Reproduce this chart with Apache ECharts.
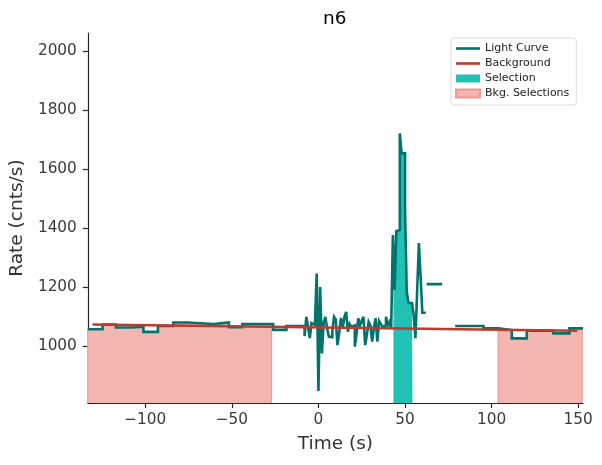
<!DOCTYPE html>
<html>
<head>
<meta charset="utf-8">
<script src="https://cdn.jsdelivr.net/npm/echarts@6/dist/echarts.min.js"></script>
<style>html,body{margin:0;padding:0;background:#fff}#c{width:602px;height:465px}</style>
</head>
<body>
<div id="c"></div>
<script>
// ---- data ----
const title = 'n6';
const xTicks = [-100, -50, 0, 50, 100, 150];
const yTicks = [1000, 1200, 1400, 1600, 1800, 2000];
const xRange = [-133.2, 152.8];
const yRange = [807, 2061];

// coarse light curve bins before the trigger (left edges, rates)
const lcLeftEdges = [-133.2, -124.7, -117, -108.4, -101.1, -92.7, -83.8, -75.7, -60.4, -51.7, -44, -26.1, -18.5];
const lcLeftRates = [1057, 1073, 1063, 1066, 1048, 1068, 1080, 1075, 1080, 1064, 1075, 1055, 1068];
// fine 1 s bins around the burst
const fineStart = -10;
const fineWidth = 1;
const fineRates = [
  1068, 1068, 1034, 1099, 1065, 1027, 1078, 1072, 1080, 1246,
  848, 1200, 975, 1080, 1099, 1060, 1032, 1030, 1050, 1099,
  1090, 1003, 1045, 1095, 1060, 1098, 1116, 1049, 1075, 1065,
  1070, 998, 1040, 1094, 1070, 1085, 1099, 1003, 1040, 1082,
  1070, 1015, 1060, 1094, 1015, 1085, 1075, 1065, 1070, 1099,
  1070, 1082, 1060, 1376, 1190, 1390, 1393, 1721, 1653, 1653,
  1467, 1184, 1146, 1146, 1140, 1105, 1027, 1184, 1349, 1235,
  1113, 1113
];
// isolated bin after the burst
const lcTailEdges = [62.5];
const lcTailRates = [1210];
const lcTailEnd = 71.5;
// coarse bins after the burst
const lcRightEdges = [79, 95.3, 104, 111.7, 120.3, 135.7, 145];
const lcRightRates = [1068, 1060, 1054, 1026, 1052, 1043, 1060];
const lcRightEnd = 152.8;

// background model
const bkgTimes = [-130.5, 149.5];
const bkgRates = [1073, 1052];

// selections
const srcSel = [43.3, 54.3];
const bkgSels = [[-133.2, -27.1], [103.8, 152.3]];

// ---- build ----
const fineEdges = fineRates.map((r, i) => fineStart + i * fineWidth);
const mainEdges = lcLeftEdges.concat(fineEdges);
const mainRates = lcLeftRates.concat(fineRates);
const mainEnd = fineStart + fineRates.length * fineWidth;

// histogram outline: each bin gives its left and right corner at its rate
function binsToPath(edges, rates, end, a, b) {
  const pts = [];
  for (let i = 0; i < edges.length; i++) {
    let l = edges[i], r = (i + 1 < edges.length) ? edges[i + 1] : end;
    l = Math.max(l, a); r = Math.min(r, b);
    if (r <= l) continue;
    pts.push([l, rates[i]], [r, rates[i]]);
  }
  return pts;
}
const pieces = [
  [mainEdges, mainRates, mainEnd],
  [lcTailEdges, lcTailRates, lcTailEnd],
  [lcRightEdges, lcRightRates, lcRightEnd]
];
function sliceFill(a, b, closed) {
  let pts = [];
  for (const [e, r, end] of pieces) pts = pts.concat(binsToPath(e, r, end, a, b));
  if (closed && pts.length) {
    pts.unshift([pts[0][0], yRange[0]]);
    pts.push([pts[pts.length - 1][0], yRange[0]]);
  }
  return pts;
}
const minus = v => String(v).replace('-', '\u2212');

const C_LC = '#00736c', C_BKG = '#c0392b', C_SEL = '#22c1b6', C_BSEL = '#f4b6b0', C_BSEL_EDGE = '#ee9a92';
const FONT = 'DejaVu Sans';

const series = [];
bkgSels.forEach(r => series.push({
  name: 'Bkg. Selections', type: 'line', symbol: 'none', z: 1,
  data: sliceFill(r[0], r[1], true),
  itemStyle: { color: C_BSEL, borderColor: C_BSEL_EDGE, borderWidth: 1 },
  lineStyle: { color: C_BSEL_EDGE, width: 1.2, join: 'miter' },
  areaStyle: { color: C_BSEL, opacity: 1, origin: 'start' }
}));
series.push({
  name: 'Selection', type: 'line', symbol: 'none', z: 2,
  data: sliceFill(srcSel[0], srcSel[1], false),
  itemStyle: { color: C_SEL },
  lineStyle: { width: 0 },
  areaStyle: { color: C_SEL, opacity: 1, origin: 'start' }
});
pieces.forEach(([e, r, end]) => series.push({
  name: 'Light Curve', type: 'line', symbol: 'none', z: 3,
  data: binsToPath(e, r, end, -Infinity, Infinity),
  itemStyle: { color: C_LC },
  lineStyle: { color: C_LC, width: 2.6, join: 'miter', miterLimit: 4, cap: 'butt' }
}));
series.push({
  name: 'Background', type: 'line', symbol: 'none', z: 4,
  data: bkgTimes.map((t, i) => [t, bkgRates[i]]),
  itemStyle: { color: C_BKG },
  lineStyle: { color: C_BKG, width: 2.6 }
});

const axisCommon = {
  axisLine: { show: true, onZero: false, lineStyle: { color: '#262626', width: 1.2 } },
  axisTick: { show: true, length: 5, lineStyle: { color: '#262626', width: 1.2 } },
  splitLine: { show: false },
  nameTextStyle: { fontFamily: FONT, fontSize: 18.5, color: '#333' }
};

const lineIcon = 'path://M0,0 L24,0 L24,2.6 L0,2.6 Z';

const chart = echarts.init(document.getElementById('c'), null, { renderer: 'canvas' });
chart.setOption({
  animation: false,
  backgroundColor: '#fff',
  title: { text: title, left: 318, top: 5, textStyle: { fontFamily: FONT, fontSize: 18.5, fontWeight: 'normal', color: '#000' } },
  grid: { left: 87, right: 19, top: 33, bottom: 62 },
  legend: {
    orient: 'vertical', left: 451, top: 38,
    padding: [5, 7, 6, 4], itemGap: 4, itemWidth: 24, itemHeight: 8,
    borderColor: '#dcdcdc', borderWidth: 1, borderRadius: 3, backgroundColor: '#fff',
    textStyle: { fontFamily: FONT, fontSize: 11, color: '#222' },
    data: [
      { name: 'Light Curve', icon: lineIcon, itemStyle: { color: C_LC } },
      { name: 'Background', icon: lineIcon, itemStyle: { color: C_BKG } },
      { name: 'Selection', icon: 'rect' },
      { name: 'Bkg. Selections', icon: 'rect' }
    ]
  },
  xAxis: Object.assign({}, axisCommon, {
    type: 'value', min: xRange[0], max: xRange[1],
    name: 'Time (s)', nameLocation: 'middle', nameGap: 32,
    axisTick: Object.assign({}, axisCommon.axisTick, { customValues: xTicks }),
    axisLabel: { customValues: xTicks, formatter: minus, fontFamily: FONT, fontSize: 15.3, color: '#3a3a3a', margin: 10 }
  }),
  yAxis: Object.assign({}, axisCommon, {
    type: 'value', min: yRange[0], max: yRange[1],
    name: 'Rate (cnts/s)', nameLocation: 'middle', nameGap: 57,
    axisTick: Object.assign({}, axisCommon.axisTick, { customValues: yTicks }),
    axisLabel: { customValues: yTicks, formatter: minus, fontFamily: FONT, fontSize: 15.3, color: '#3a3a3a', margin: 11 }
  }),
  series: series
});
</script>
</body>
</html>
